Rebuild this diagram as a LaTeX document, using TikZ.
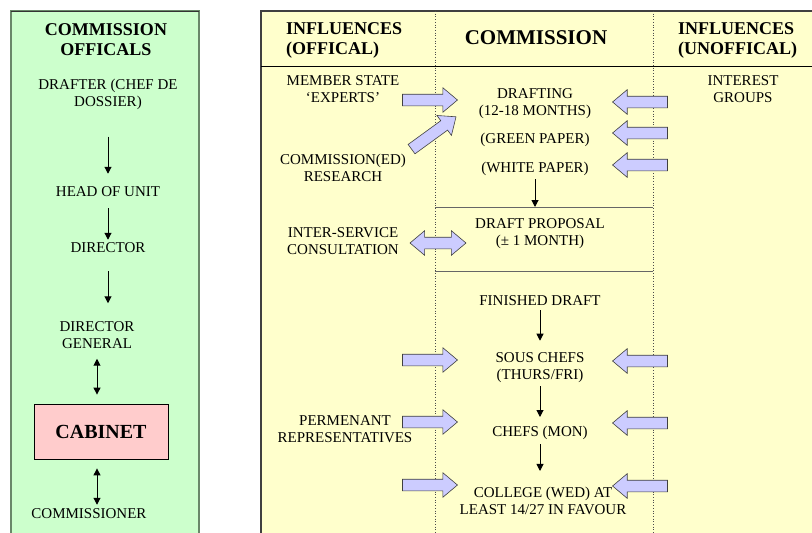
\documentclass[tikz,border=0pt]{standalone}
\usepackage{fontspec}
\setmainfont{Liberation Serif}[BoldFont={Liberation Serif Bold}]
\usetikzlibrary{arrows.meta,shapes.arrows,positioning}

\definecolor{offgreen}{RGB}{204,255,204}
\definecolor{offgreenline}{RGB}{105,135,105}
\definecolor{stageyellow}{RGB}{255,255,204}
\definecolor{pushblue}{RGB}{204,204,255}
\definecolor{cabpink}{RGB}{255,204,204}

\tikzset{
  lbl/.style={align=center,font=\fontsize{15}{17}\selectfont,inner sep=1pt},
  hdr/.style={align=left,font=\bfseries\fontsize{18}{20}\selectfont,inner sep=1pt},
  push/.style={single arrow,draw=black!75,fill=pushblue,line width=0.6pt,
    minimum height=55pt,minimum width=24pt,inner xsep=0pt,inner ysep=5.5pt,
    single arrow head extend=6.5pt,single arrow tip angle=80},
  pushboth/.style={double arrow,draw=black!75,fill=pushblue,line width=0.6pt,
    minimum height=56pt,minimum width=24pt,inner xsep=0pt,inner ysep=5.5pt,
    double arrow head extend=6.5pt,double arrow tip angle=80},
}

\begin{document}
\begin{tikzpicture}[x=1pt,y=-1pt,>={Triangle[length=7pt,width=7pt]}]
\clip (0,0) rectangle (812,533);

% panels
\fill[offgreen] (11,11) rectangle (199,540);
\draw[offgreenline,line width=1.6pt] (11,540)--(11,11)--(199,11)--(199,540);
\draw[black!80,line width=0.8pt] (11,11)--(199,11);
\fill[stageyellow] (261,11) rectangle (820,540);
\draw[black!75,line width=1.2pt] (261,540)--(261,11)--(820,11);

\draw[black!70,dotted,line width=0.7pt] (435,11)--(435,533);
\draw[black!70,dotted,line width=0.7pt] (653,11)--(653,533);
\draw[line width=0.8pt] (261,66)--(812,66);
\draw[black!60,line width=0.8pt] (435,207)--(653,207);
\draw[black!60,line width=0.8pt] (435,271)--(653,271);
\coordinate (dpline) at (535,207);

% commission officials
\node[hdr,align=center] (offhdr) at (106,40) {COMMISSION\\OFFICALS};
\node[lbl] (drafter) at (108,94) {DRAFTER (CHEF DE\\DOSSIER)};
\node[lbl] (hou) at (108,192) {HEAD OF UNIT};
\node[lbl] (dir) at (108,248) {DIRECTOR};
\node[lbl] (dg) at (97,335) {DIRECTOR\\GENERAL};
\node[draw,fill=cabpink,line width=0.8pt,minimum width=134pt,minimum height=55pt,
  font=\bfseries\fontsize{20}{24}\selectfont] (cab) at (101,431.5) {CABINET};
\node[lbl] (com) at (89,514) {COMMISSIONER};

\draw[->,line width=1pt,shorten <=26pt,shorten >=12pt] (drafter.south) -- (drafter.south |- hou.north);
\draw[->,line width=1pt,shorten <=10pt,shorten >=2pt] (hou.south) -- (hou.south |- dir.north);
\draw[->,line width=1pt,shorten <=17pt,shorten >=17pt] (dir.south) -- (dir.south |- dg.north);
\draw[<->,line width=1pt,shorten <=9pt,shorten >=9pt] (dg.south) -- (dg.south |- cab.north);
\draw[<->,line width=1pt,shorten <=9pt,shorten >=3pt] (cab.south -| dg.south) -- (dg.south |- com.north);

% headers
\node[hdr,anchor=west] (offinf) at (285,40) {INFLUENCES\\(OFFICAL)};
\node[font=\bfseries\fontsize{21}{24}\selectfont] (comhdr) at (536,38) {COMMISSION};
\node[hdr,anchor=west] (unoffinf) at (677,40) {INFLUENCES\\(UNOFFICAL)};

% influences (offical)
\node[lbl] (mse) at (343,89) {MEMBER STATE\\‘EXPERTS’};
\node[lbl] (cer) at (343,168) {COMMISSION(ED)\\RESEARCH};
\node[lbl] (isc) at (343,241) {INTER-SERVICE\\CONSULTATION};
\node[lbl] (perm) at (345,429) {PERMENANT\\REPRESENTATIVES};

% influences (unoffical)
\node[lbl] (ig) at (743,89) {INTEREST\\GROUPS};

% commission
\node[lbl] (drafting) at (535,104) {DRAFTING\\(12-18 MONTHS)};
\node[lbl] (green) at (535,140) {(GREEN PAPER)};
\node[lbl] (white) at (535,169) {(WHITE PAPER)};
\node[lbl] (dprop) at (540,234) {DRAFT PROPOSAL\\(± 1 MONTH)};
\node[lbl] (fin) at (540,301) {FINISHED DRAFT};
\node[lbl] (sous) at (540,368) {SOUS CHEFS\\(THURS/FRI)};
\node[lbl] (chefs) at (540,433) {CHEFS (MON)};
\node[lbl] (college) at (543,501) {COLLEGE (WED) AT\\LEAST 14/27 IN FAVOUR};

\draw[->,line width=1pt,shorten <=2pt] (white.south) -- (white.south |- dpline);
\draw[->,line width=1pt,shorten <=3pt,shorten >=11pt] (fin.south) -- (fin.south |- sous.north);
\draw[->,line width=1pt,shorten <=2pt,shorten >=8pt] (sous.south) -- (sous.south |- chefs.north);
\draw[->,line width=1pt,shorten <=3pt,shorten >=15pt] (chefs.south) -- (chefs.south |- college.north);

% pushes
\node[push] (mseP) at (426.5,100) {};
\node[push,rotate=36] (cerP) at (431,135) {};
\node[push,rotate=180] (igP1) at (643.5,102) {};
\node[push,rotate=180] (igP2) at (643.5,133) {};
\node[push,rotate=180] (igP3) at (643.5,165) {};
\node[pushboth] (iscP) at (438,243) {};
\node[push] (sousP) at (426.5,360) {};
\node[push] (permP) at (426.5,422) {};
\node[push] (colP) at (426.5,485) {};
\node[push,rotate=180] (sousQ) at (643.5,361) {};
\node[push,rotate=180] (chefsQ) at (643.5,423) {};
\node[push,rotate=180] (colQ) at (643.5,486) {};

\end{tikzpicture}
\end{document}
